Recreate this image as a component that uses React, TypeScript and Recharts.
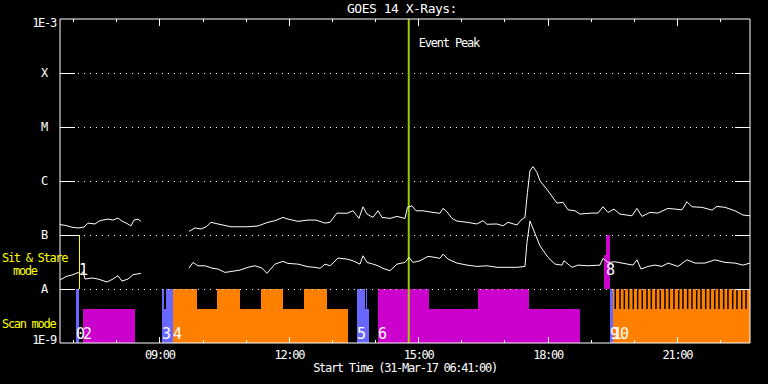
import React from "react";
import {
  ComposedChart,
  Line,
  XAxis,
  YAxis,
  ReferenceLine,
  ReferenceArea,
  ReferenceDot,
} from "recharts";

// time axis in decimal hours, 06:41 -> 22:41
const START = 6.6833;
const END = 22.6833;
const hourTicks = [7, 8, 9, 10, 11, 12, 13, 14, 15, 16, 17, 18, 19, 20, 21, 22];

const fluxTicks = [1e-9, 1e-8, 1e-7, 1e-6, 1e-5, 1e-4, 1e-3];
const classLabels: Record<number, string> = { [-9]: "1E-9", [-8]: "A", [-7]: "B", [-6]: "C", [-5]: "M", [-4]: "X", [-3]: "1E-3" };
const gridLevels = [1e-8, 1e-7, 1e-6, 1e-5, 1e-4];

// long channel (1-8 A), before and after the data gap
const longTimes1 = [6.683, 6.822, 6.962, 7.101, 7.24, 7.332, 7.495, 7.611, 7.796, 7.912, 8.028, 8.121, 8.237, 8.329, 8.399, 8.492, 8.561];
const longFlux1 = [1.56e-7, 1.5e-7, 1.39e-7, 1.35e-7, 1.4e-7, 1.66e-7, 1.6e-7, 1.85e-7, 1.97e-7, 1.89e-7, 2.06e-7, 1.81e-7, 1.63e-7, 1.47e-7, 1.89e-7, 1.97e-7, 1.78e-7];
const longTimes2 = [9.674, 9.813, 9.953, 10.092, 10.184, 10.347, 10.648, 11.042, 11.274, 11.506, 11.668, 11.854, 11.97, 12.202, 12.434, 12.619, 12.828, 12.944, 13.106, 13.338, 13.477, 13.57, 13.616, 13.709, 13.802, 13.941, 14.057, 14.15, 14.335, 14.497, 14.683, 14.741, 14.845, 14.938, 15.1, 15.332, 15.494, 15.564, 15.657, 15.773, 15.889, 16.121, 16.352, 16.492, 16.584, 16.816, 16.955, 17.071, 17.28, 17.373, 17.465, 17.523, 17.581, 17.651, 17.744, 17.813, 17.999, 18.207, 18.347, 18.463, 18.625, 18.741, 19.019, 19.158, 19.274, 19.39, 19.529, 19.668, 19.947, 20.062, 20.178, 20.364, 20.549, 20.781, 21.106, 21.222, 21.338, 21.57, 21.802, 21.918, 22.103, 22.335, 22.52, 22.683];
const longFlux2 = [1.17e-7, 1.35e-7, 1.29e-7, 1.45e-7, 1.72e-7, 1.6e-7, 1.42e-7, 1.42e-7, 1.47e-7, 1.72e-7, 1.84e-7, 2.12e-7, 1.97e-7, 1.79e-7, 1.89e-7, 1.89e-7, 1.66e-7, 1.72e-7, 2.55e-7, 2.52e-7, 2.81e-7, 2.27e-7, 2.03e-7, 3.33e-7, 2.44e-7, 2.12e-7, 2.81e-7, 2.12e-7, 2.03e-7, 2.21e-7, 2.03e-7, 3.25e-7, 3.47e-7, 2.81e-7, 2.81e-7, 2.62e-7, 2.52e-7, 3.11e-7, 2.69e-7, 2.03e-7, 1.81e-7, 1.72e-7, 1.6e-7, 1.84e-7, 1.58e-7, 1.6e-7, 1.48e-7, 1.72e-7, 1.53e-7, 1.89e-7, 2.12e-7, 6.14e-7, 1.54e-6, 1.85e-6, 1.44e-6, 1.01e-6, 6.58e-7, 3.9e-7, 4.02e-7, 2.93e-7, 2.81e-7, 2.44e-7, 2.55e-7, 2.55e-7, 3.33e-7, 2.62e-7, 3.02e-7, 2.44e-7, 2.27e-7, 3.11e-7, 2.21e-7, 2.62e-7, 2.55e-7, 3.11e-7, 2.93e-7, 4.12e-7, 3.33e-7, 3.25e-7, 2.89e-7, 3.39e-7, 3.25e-7, 2.81e-7, 2.34e-7, 2.27e-7];

// short channel (0.5-4 A)
const shortTimes1 = [6.683, 6.822, 6.985, 7.101, 7.17, 7.216, 7.263, 7.425, 7.564, 7.773, 7.912, 8.028, 8.121, 8.26, 8.376, 8.561];
const shortFlux1 = [1.47e-8, 1.7e-8, 1.84e-8, 2.02e-8, 1.85e-8, 2.1e-8, 1.53e-8, 1.6e-8, 1.53e-8, 1.35e-8, 1.53e-8, 1.76e-8, 1.4e-8, 1.53e-8, 1.84e-8, 1.95e-8];
const shortTimes2 = [9.674, 9.767, 9.883, 10.045, 10.208, 10.347, 10.509, 10.671, 10.857, 11.042, 11.205, 11.367, 11.483, 11.668, 11.854, 11.97, 12.202, 12.434, 12.596, 12.712, 12.828, 12.944, 13.13, 13.338, 13.477, 13.64, 13.709, 13.802, 13.941, 14.057, 14.173, 14.335, 14.497, 14.683, 14.776, 14.868, 15.031, 15.216, 15.379, 15.494, 15.564, 15.68, 15.889, 16.121, 16.352, 16.584, 16.816, 17.048, 17.28, 17.465, 17.512, 17.581, 17.674, 17.813, 17.999, 18.161, 18.324, 18.37, 18.556, 18.695, 18.927, 19.205, 19.274, 19.39, 19.552, 19.715, 19.97, 20.062, 20.155, 20.317, 20.48, 20.642, 20.781, 21.013, 21.222, 21.408, 21.64, 21.872, 22.103, 22.335, 22.52, 22.683];
const shortFlux2 = [2.44e-8, 3.11e-8, 2.69e-8, 2.69e-8, 2.44e-8, 2.34e-8, 2.03e-8, 2.12e-8, 2.24e-8, 2.52e-8, 2.69e-8, 2.44e-8, 1.95e-8, 2.89e-8, 3.25e-8, 2.98e-8, 2.89e-8, 2.58e-8, 2.52e-8, 2.41e-8, 2.89e-8, 2.69e-8, 3.74e-8, 3.58e-8, 3.33e-8, 2.89e-8, 4.12e-8, 3.11e-8, 2.89e-8, 2.69e-8, 2.41e-8, 2.18e-8, 2.89e-8, 3.11e-8, 3.85e-8, 3.11e-8, 3.33e-8, 4.02e-8, 3.85e-8, 3.69e-8, 4.43e-8, 3.58e-8, 3.02e-8, 2.77e-8, 2.62e-8, 2.69e-8, 2.52e-8, 2.52e-8, 2.52e-8, 2.62e-8, 7.28e-8, 1.82e-7, 1.19e-7, 6.3e-8, 3.85e-8, 2.89e-8, 2.77e-8, 3.33e-8, 2.52e-8, 2.77e-8, 2.69e-8, 2.77e-8, 3.69e-8, 3.11e-8, 3.19e-8, 3.02e-8, 2.77e-8, 3.47e-8, 2.34e-8, 2.62e-8, 2.77e-8, 2.62e-8, 3.02e-8, 2.62e-8, 3.47e-8, 3.02e-8, 3.02e-8, 3.47e-8, 3.11e-8, 3.02e-8, 2.77e-8, 3.02e-8];

// scan mode blocks: [mode, start, end, level]
const scanBlocks: [string, number, number, string][] = [
  ["blue", 7.054, 7.124, "full"],
  ["magenta", 7.217, 8.422, "half"],
  ["blue", 9.049, 9.095, "full"],
  ["blue", 9.095, 9.141, "half"],
  ["blue", 9.141, 9.304, "full"],
  ["orange", 9.304, 9.86, "full"],
  ["orange", 9.86, 10.324, "half"],
  ["orange", 10.324, 10.857, "full"],
  ["orange", 10.857, 11.344, "half"],
  ["orange", 11.344, 11.854, "full"],
  ["orange", 11.854, 12.341, "half"],
  ["orange", 12.341, 12.875, "full"],
  ["orange", 12.875, 13.362, "half"],
  ["blue", 13.57, 13.756, "full"],
  ["blue", 13.756, 13.779, "half"],
  ["blue", 13.779, 13.802, "full"],
  ["blue", 13.802, 13.849, "half"],
  ["magenta", 14.057, 15.24, "full"],
  ["magenta", 15.24, 16.376, "half"],
  ["magenta", 16.376, 17.559, "full"],
  ["magenta", 17.559, 18.742, "half"],
  ["blue", 19.437, 19.507, "full"],
  ["orange", 19.507, 22.683, "full"],
];
// gaps between the short repeated scans of the last block
const scanGaps = [19.559, 19.669, 19.769, 19.87, 19.977, 20.079, 20.186, 20.295, 20.395, 20.503, 20.603, 20.712, 20.812, 20.921, 21.03, 21.129, 21.238, 21.338, 21.447, 21.547, 21.656, 21.763, 21.865, 21.964, 22.073, 22.173, 22.282, 22.382, 22.491, 22.591];
// sit & stare blocks
const sitBlocks: [string, number, number, string][] = [
  ["magenta", 19.298, 19.344, "half"],
  ["magenta", 19.344, 19.437, "full"],
];
const scanLabels: [string, number][] = [["0", 7.054], ["2", 7.217], ["3", 9.049], ["4", 9.304], ["5", 13.57], ["6", 14.057], ["9", 19.437], ["10", 19.507]];
const sitLabels: [string, number][] = [["1", 7.124], ["8", 19.344]];
const sitMarker = 7.124;
const eventPeak = 14.77;

const FONT = '"DejaVu Sans Mono", monospace';
const modeColors: Record<string, string> = { blue: "#6868ff", magenta: "#cc00cc", orange: "#ff8000" };
const SCAN = { base: 1e-9, half: 4.25e-9, full: 1e-8 };
const SIT = { base: 1e-8, half: 4.2e-8, full: 1e-7 };

const rows = (ts: number[], fs: number[]) => ts.map((t, i) => ({ t, flux: fs[i] }));
const hhmm = (h: number) => `${String(h).padStart(2, "0")}:00`;
const small = { fontFamily: FONT, fontSize: 12, letterSpacing: -1.3 };

function BottomTick({ x, y, payload }: any) {
  const major = payload.value % 3 === 0;
  return (
    <g>
      <line x1={x} x2={x} y1={y} y2={y - (major ? 6 : 3)} stroke="#fff" shapeRendering="crispEdges" />
      {major && (
        <text x={x} y={y + 16} textAnchor="middle" fill="#fff" {...small}>
          {hhmm(payload.value)}
        </text>
      )}
    </g>
  );
}

function TopTick({ x, y, payload }: any) {
  const major = payload.value % 3 === 0;
  return <line x1={x} x2={x} y1={y} y2={y + (major ? 7 : 3)} stroke="#fff" shapeRendering="crispEdges" />;
}

function LeftTick({ x, y, payload }: any) {
  const e = Math.round(Math.log10(payload.value));
  const inner = e > -9 && e < -3;
  const shift = e === -3 ? 4 : e === -9 ? -3 : 0;
  const lineEnd = e === -7 ? 19 : 15;
  return (
    <g>
      {inner && <line x1={x} x2={x + lineEnd} y1={y} y2={y} stroke="#fff" shapeRendering="crispEdges" />}
      <text x={x - 16} y={y + 4 + shift} textAnchor="middle" fill="#fff" {...small}>
        {classLabels[e]}
      </text>
    </g>
  );
}

function RightTick({ x, y, payload }: any) {
  const e = Math.round(Math.log10(payload.value));
  if (e <= -9 || e >= -3) return <g />;
  return <line x1={x} x2={x - 15} y1={y} y2={y} stroke="#fff" shapeRendering="crispEdges" />;
}

const digitLabel = (text: string, dy: number) => (p: any) => {
  const vb = p.viewBox ?? p;
  const cx = vb.x + (vb.width ?? 0) / 2;
  const cy = vb.y + (vb.height ?? 0) / 2;
  return (
    <text x={cx} y={cy + dy} fill="#fff" fontSize={15} letterSpacing={-2} fontFamily={FONT}>
      {text}
    </text>
  );
};

function PeakLabel(p: any) {
  const vb = p.viewBox ?? p;
  return (
    <text x={vb.x + 10} y={vb.y + 28} fill="#fff" fontFamily={FONT} fontSize={12} letterSpacing={-1.2}>
      Event Peak
    </text>
  );
}

export default function App() {
  return (
    <div style={{ position: "absolute", left: 0, top: 0, width: 768, height: 384, background: "#000" }}>
      <ComposedChart width={768} height={384} margin={{ top: 0, right: 0, bottom: 0, left: 0 }}>
        <XAxis xAxisId="top" orientation="top" type="number" dataKey="t" domain={[START, END]} allowDataOverflow
          ticks={hourTicks} tick={TopTick} tickLine={false} tickSize={0} tickMargin={0} height={19} axisLine={{ stroke: "#fff" }} />
        <XAxis type="number" dataKey="t" domain={[START, END]} allowDataOverflow
          ticks={hourTicks} tick={BottomTick} tickLine={false} tickSize={0} tickMargin={0} height={41} axisLine={{ stroke: "#fff" }} />
        <YAxis type="number" scale="log" domain={[1e-9, 1e-3]} allowDataOverflow ticks={fluxTicks}
          tick={LeftTick} tickLine={false} tickSize={0} tickMargin={0} width={60} axisLine={{ stroke: "#fff" }} />
        <YAxis yAxisId="r" orientation="right" type="number" scale="log" domain={[1e-9, 1e-3]} allowDataOverflow ticks={fluxTicks}
          tick={RightTick} tickLine={false} tickSize={0} tickMargin={0} width={18} axisLine={{ stroke: "#fff" }} />

        {scanBlocks.map(([m, a, b, lvl], i) => (
          <ReferenceArea key={`s${i}`} x1={a} x2={b} y1={SCAN.base} y2={lvl === "full" ? SCAN.full : SCAN.half}
            fill={modeColors[m]} fillOpacity={1} stroke="none" shapeRendering="crispEdges" />
        ))}
        {scanGaps.map((t, i) => (
          <ReferenceArea key={`g${i}`} x1={t - 0.017} x2={t + 0.017} y1={SCAN.half} y2={SCAN.full}
            fill="#000" fillOpacity={1} stroke="none" />
        ))}
        {sitBlocks.map(([m, a, b, lvl], i) => (
          <ReferenceArea key={`ss${i}`} x1={a} x2={b} y1={SIT.base} y2={lvl === "full" ? SIT.full : SIT.half}
            fill={modeColors[m]} fillOpacity={1} stroke="none" shapeRendering="crispEdges" />
        ))}

        {gridLevels.map((v) => (
          <ReferenceLine key={v} y={v} stroke="#fff" strokeDasharray="1 5" shapeRendering="crispEdges" />
        ))}
        <ReferenceLine segment={[{ x: sitMarker, y: SIT.base }, { x: sitMarker, y: SIT.full }]} stroke="#ffff00" shapeRendering="crispEdges" />
        <ReferenceLine x={eventPeak} stroke="#9ccc00" strokeWidth={2} label={PeakLabel} />

        <Line data={rows(longTimes1, longFlux1)} dataKey="flux" type="linear" stroke="#fff" strokeWidth={1} dot={false} isAnimationActive={false} />
        <Line data={rows(longTimes2, longFlux2)} dataKey="flux" type="linear" stroke="#fff" strokeWidth={1} dot={false} isAnimationActive={false} />
        <Line data={rows(shortTimes1, shortFlux1)} dataKey="flux" type="linear" stroke="#fff" strokeWidth={1} dot={false} isAnimationActive={false} />
        <Line data={rows(shortTimes2, shortFlux2)} dataKey="flux" type="linear" stroke="#fff" strokeWidth={1} dot={false} isAnimationActive={false} />

        {scanLabels.map(([n, t]) => (
          <ReferenceDot key={`l${n}`} x={t} y={SCAN.base} r={1} fill="none" stroke="none" label={digitLabel(n, -4)} />
        ))}
        {sitLabels.map(([n, t]) => (
          <ReferenceDot key={`k${n}`} x={t} y={SIT.base} r={1} fill="none" stroke="none" label={digitLabel(n, -14)} />
        ))}
      </ComposedChart>
      <svg width={768} height={384} style={{ position: "absolute", left: 0, top: 0, pointerEvents: "none" }}>
        <text x={402} y={13} textAnchor="middle" fill="#fff" fontFamily={FONT} fontSize={13} letterSpacing={-0.5}>GOES 14 X-Rays:</text>
        <text x={405} y={372} textAnchor="middle" fill="#fff" {...small}>Start Time (31-Mar-17 06:41:00)</text>
        <text x={2} y={262} fill="#ffff00" {...small}>Sit &amp; Stare</text>
        <text x={13} y={275} fill="#ffff00" {...small}>mode</text>
        <text x={2} y={328} fill="#ffff00" {...small}>Scan mode</text>
      </svg>
    </div>
  );
}
